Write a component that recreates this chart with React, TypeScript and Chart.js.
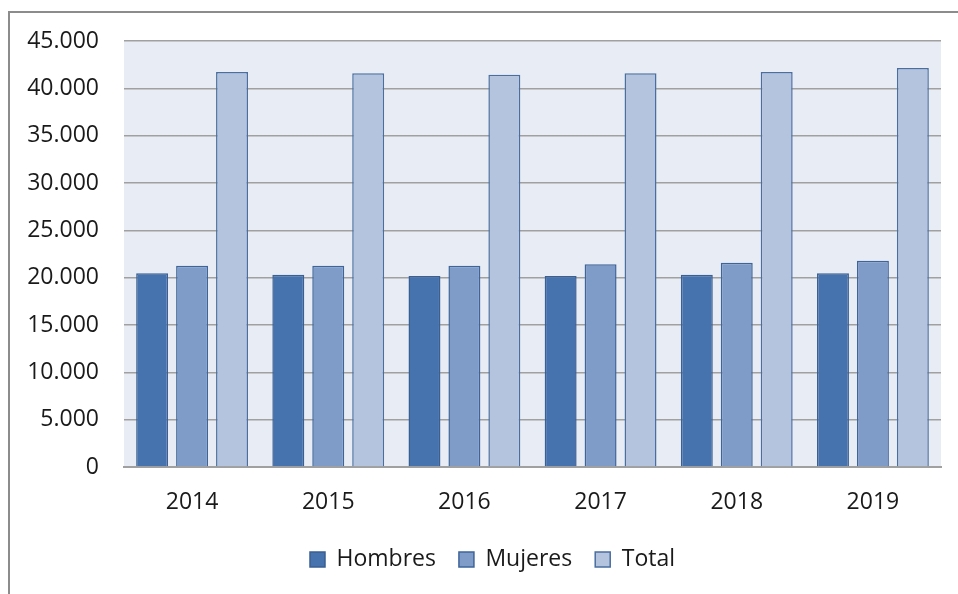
import React, { useEffect, useRef } from "react";
import { Chart, registerables } from "chart.js";

Chart.register(...registerables);

const years = ["2014", "2015", "2016", "2017", "2018", "2019"];
const hombres = [20460, 20315, 20180, 20180, 20315, 20460];
const mujeres = [21265, 21265, 21265, 21410, 21585, 21795];
const total = [41725, 41585, 41440, 41585, 41725, 42150];

const FONT = "'Open Sans', sans-serif";

const fmt = (v: number) =>
  String(Math.round(v)).replace(/\B(?=(\d{3})+(?!\d))/g, ".");

const decor = {
  id: "decor",
  afterLayout(chart: any) {
    const lg = chart.legend;
    if (lg) {
      lg.left += 22;
      lg.right += 22;
    }
  },
  beforeDraw(chart: any) {
    const { ctx, chartArea } = chart;
    ctx.save();
    ctx.fillStyle = "#FFFFFF";
    ctx.fillRect(0, 0, chart.width, chart.height);
    ctx.fillStyle = "#E8ECF4";
    ctx.fillRect(chartArea.left, chartArea.top, chartArea.right - chartArea.left, chartArea.bottom - chartArea.top);
    ctx.restore();
  },
  afterDraw(chart: any) {
    const { ctx } = chart;
    ctx.save();
    ctx.strokeStyle = "#8C8C8C";
    ctx.lineWidth = 2;
    ctx.beginPath();
    ctx.moveTo(9, chart.height);
    ctx.lineTo(9, 12);
    ctx.lineTo(chart.width, 12);
    ctx.stroke();
    ctx.restore();
  },
};

export default function App() {
  const ref = useRef<HTMLCanvasElement>(null);
  useEffect(() => {
    if (!ref.current) return;
    const chart = new Chart(ref.current, {
      type: "bar",
      data: {
        labels: years,
        datasets: [
          { label: "Hombres", data: hombres, backgroundColor: "#4672AD", borderColor: "#3A5F93", borderWidth: 1.5 },
          { label: "Mujeres", data: mujeres, backgroundColor: "#7F9CC9", borderColor: "#3E6499", borderWidth: 1.5 },
          { label: "Total", data: total, backgroundColor: "#B4C3DE", borderColor: "#4A6E9F", borderWidth: 1.5 },
        ],
      },
      options: {
        responsive: false,
        animation: false,
        layout: { padding: { left: 0, top: 41, right: 17, bottom: 13 } },
        datasets: { bar: { barPercentage: 0.8, categoryPercentage: 0.88 } },
        plugins: {
          legend: {
            position: "bottom",
            labels: {
              boxWidth: 15,
              boxHeight: 15,
              padding: 23,
              color: "#1A1A1A",
              font: { family: FONT, size: 23 },
            },
          },
          tooltip: { enabled: false },
        },
        scales: {
          x: {
            grid: { display: false, drawTicks: false },
            border: { display: true, color: "#A0A0A0", width: 2 },
            ticks: { color: "#1A1A1A", padding: 22, font: { family: FONT, size: 23 } },
            afterFit: (s: any) => { s.height = 58; },
          },
          y: {
            min: 0,
            max: 45000,
            grid: { color: "#A0A0A0", lineWidth: 1.5, drawTicks: false },
            border: { display: false },
            ticks: {
              stepSize: 5000,
              color: "#1A1A1A",
              padding: 25,
              font: { family: FONT, size: 23 },
              callback: (v: any) => fmt(Number(v)),
            },
            afterFit: (s: any) => { s.width = 124; },
          },
        },
      },
      plugins: [decor],
    });
    return () => chart.destroy();
  }, []);
  return (
    <div style={{ position: "absolute", left: 0, top: 0, width: 958, height: 594 }}>
      <canvas ref={ref} width={958} height={594} />
    </div>
  );
}
